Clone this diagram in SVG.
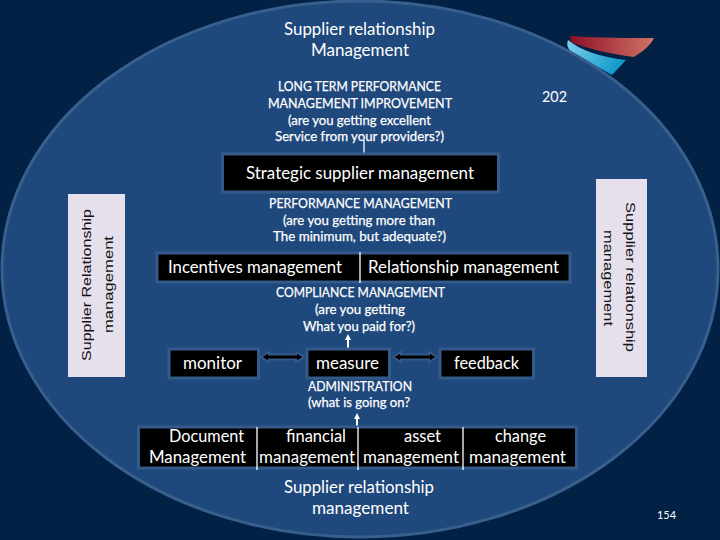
<svg xmlns="http://www.w3.org/2000/svg" width="720" height="540" viewBox="0 0 720 540">
<style>
text{font-family:Lato,"Open Sans","Liberation Sans",sans-serif;fill:#fff}
.t{font-size:16.500px}
.s{font-size:13.500px;stroke:#fff;stroke-width:.25}
.n{font-size:14.500px}
.b{fill:#000;stroke:#345a8a;stroke-width:3}
.side{fill:#e6e0ec}
.v{font-family:"Liberation Sans",Arial,sans-serif;font-size:13.500px;fill:#111}
.w{stroke:#fff;stroke-width:1.300;fill:none}
.u{stroke:#fff;stroke-width:2;fill:none}
.a{fill:#000;stroke:#345a8a;stroke-width:2}
</style>
<defs>
<linearGradient id="red" x1="0" x2="1" y1="0" y2="0"><stop offset="0" stop-color="#8e1024"/><stop offset="1" stop-color="#cf7368"/></linearGradient>
<linearGradient id="blue" x1="0" x2="1" y1="0" y2="0.4"><stop offset="0" stop-color="#7fd0ee"/><stop offset="1" stop-color="#129ccb"/></linearGradient>
</defs>
<rect width="720" height="540" fill="#022144"/>
<g id="logo">
<path d="M568 40C566 46 568 50 575 54L612 75L626 60C600 57 580 50 568 40Z" fill="url(#blue)"/>
<path d="M570 36C600 38 630 38 654 38C650 46 642 52 634 57C610 54 585 48 571 42Z" fill="url(#red)"/>
</g>
<ellipse id="disc" cx="360" cy="269" rx="358" ry="268" fill="#1f487c" stroke="#38608f" stroke-width="3"/>
<g id="connectors">
<path class="w" d="M364 140V154"/>
<path class="a" d="M261 357L269 352V354.500H296V352L304 357L296 362V359.500H269V362Z"/>
<path class="a" d="M393 357L401 352V354.500H429V352L437 357L429 362V359.500H401V362Z"/>
<path class="u" d="M348 348V338"/><path d="M348 334L351 340H345Z" fill="#fff"/>
<path class="u" d="M357 427V417"/><path d="M357 413L360 419H354Z" fill="#fff"/>
</g>
<g id="title">
<text class="t" x="284" y="35" textLength="151" lengthAdjust="spacingAndGlyphs">Supplier relationship</text>
<text class="t" x="311" y="56" textLength="98" lengthAdjust="spacingAndGlyphs">Management</text>
</g>
<g id="long-term">
<text class="s" x="278" y="91" textLength="163" lengthAdjust="spacingAndGlyphs">LONG TERM PERFORMANCE</text>
<text class="s" x="268" y="108" textLength="184" lengthAdjust="spacingAndGlyphs">MANAGEMENT IMPROVEMENT</text>
<text class="s" x="288" y="125" textLength="143" lengthAdjust="spacingAndGlyphs">(are you getting excellent</text>
<text class="s" x="275" y="141" textLength="169" lengthAdjust="spacingAndGlyphs">Service from your providers?)</text>
</g>
<text id="num202" class="n" x="542" y="102" textLength="25" lengthAdjust="spacingAndGlyphs">202</text>
<g id="strategic">
<rect class="b" x="222.500" y="154" width="276" height="38"/>
<text class="t" x="246" y="179" textLength="228" lengthAdjust="spacingAndGlyphs">Strategic supplier management</text>
</g>
<g id="performance">
<text class="s" x="269" y="208" textLength="183" lengthAdjust="spacingAndGlyphs">PERFORMANCE MANAGEMENT</text>
<text class="s" x="283" y="225" textLength="152" lengthAdjust="spacingAndGlyphs">(are you getting more than</text>
<text class="s" x="273" y="241" textLength="173" lengthAdjust="spacingAndGlyphs">The minimum, but adequate?)</text>
</g>
<g id="incentives">
<rect class="b" x="157" y="253" width="413" height="29"/>
<path class="w" d="M360 252V283"/>
<text class="t" x="168" y="273" textLength="174" lengthAdjust="spacingAndGlyphs">Incentives management</text>
<text class="t" x="368" y="273" textLength="191" lengthAdjust="spacingAndGlyphs">Relationship management</text>
</g>
<g id="compliance">
<text class="s" x="276" y="297" textLength="169" lengthAdjust="spacingAndGlyphs">COMPLIANCE MANAGEMENT</text>
<text class="s" x="315" y="314" textLength="90" lengthAdjust="spacingAndGlyphs">(are you getting</text>
<text class="s" x="303" y="331" textLength="112" lengthAdjust="spacingAndGlyphs">What you paid for?)</text>
</g>
<g id="monitor">
<rect class="b" x="169" y="349" width="89.500" height="29"/>
<text class="t" x="183" y="369" textLength="59" lengthAdjust="spacingAndGlyphs">monitor</text>
</g>
<g id="measure">
<rect class="b" x="307" y="349" width="82.500" height="29"/>
<text class="t" x="316" y="369" textLength="63" lengthAdjust="spacingAndGlyphs">measure</text>
</g>
<g id="feedback">
<rect class="b" x="440" y="349" width="93.500" height="29"/>
<text class="t" x="454" y="369" textLength="65" lengthAdjust="spacingAndGlyphs">feedback</text>
</g>
<g id="administration">
<text class="s" x="308" y="391" textLength="104" lengthAdjust="spacingAndGlyphs">ADMINISTRATION</text>
<text class="s" x="308" y="407" textLength="102" lengthAdjust="spacingAndGlyphs">(what is going on?</text>
</g>
<g id="functions">
<rect class="b" x="138.500" y="427" width="438" height="41"/>
<path class="w" d="M257 427V470M358 427V470M463 427V470"/>
<text class="t" x="169" y="442" textLength="75" lengthAdjust="spacingAndGlyphs">Document</text>
<text class="t" x="286" y="442" textLength="60" lengthAdjust="spacingAndGlyphs">financial</text>
<text class="t" x="404" y="442" textLength="37" lengthAdjust="spacingAndGlyphs">asset</text>
<text class="t" x="495" y="442" textLength="51" lengthAdjust="spacingAndGlyphs">change</text>
<text class="t" x="149" y="463" textLength="97" lengthAdjust="spacingAndGlyphs">Management</text>
<text class="t" x="259" y="463" textLength="96" lengthAdjust="spacingAndGlyphs">management</text>
<text class="t" x="363" y="463" textLength="96" lengthAdjust="spacingAndGlyphs">management</text>
<text class="t" x="469" y="463" textLength="97" lengthAdjust="spacingAndGlyphs">management</text>
</g>
<g id="footer">
<text class="t" x="284" y="493" textLength="150" lengthAdjust="spacingAndGlyphs">Supplier relationship</text>
<text class="t" x="312" y="514" textLength="97" lengthAdjust="spacingAndGlyphs">management</text>
</g>
<g id="left-side">
<rect class="side" x="68" y="194" width="57" height="183"/>
<text class="v" transform="translate(91 361) rotate(-90)" textLength="152" lengthAdjust="spacingAndGlyphs">Supplier Relationship</text>
<text class="v" transform="translate(113 333) rotate(-90)" textLength="97" lengthAdjust="spacingAndGlyphs">management</text>
</g>
<g id="right-side">
<rect class="side" x="596" y="179" width="51" height="198"/>
<text class="v" transform="translate(626 202) rotate(90)" textLength="150" lengthAdjust="spacingAndGlyphs">Supplier relationship</text>
<text class="v" transform="translate(604 230) rotate(90)" textLength="96" lengthAdjust="spacingAndGlyphs">management</text>
</g>
<text id="page" x="657" y="519" font-size="12" textLength="19" lengthAdjust="spacingAndGlyphs">154</text>
</svg>
